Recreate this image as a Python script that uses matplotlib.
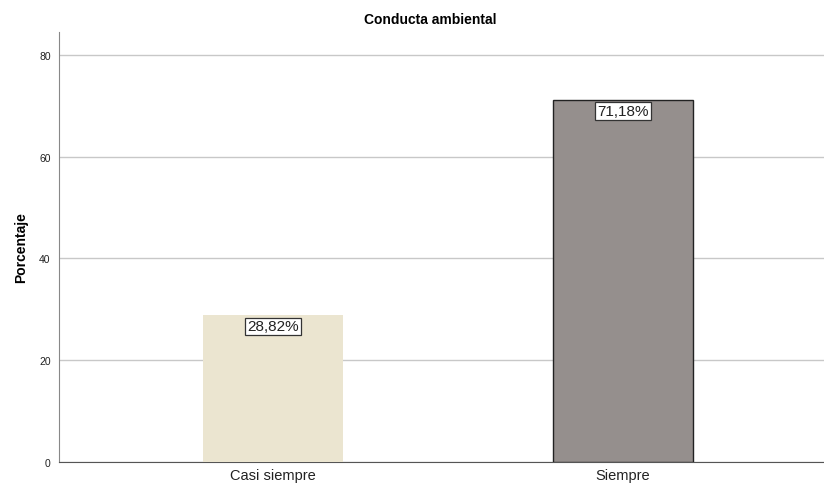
import matplotlib.pyplot as plt

categories = ["Casi siempre", "Siempre"]
percentages = [28.82, 71.18]
labels = ["28,82%", "71,18%"]
bar_colors = ["#EBE5D0", "#958F8D"]
edge_colors = ["none", "#222222"]

fig = plt.figure(figsize=(8.24, 4.89), dpi=100)
ax = fig.add_axes([0.0716, 0.0532, 0.9284, 0.8793])

x = range(len(categories))
bars = ax.bar(x, percentages, width=0.4, color=bar_colors, edgecolor=edge_colors,
              linewidth=1.0, zorder=3)

for xi, val, lab in zip(x, percentages, labels):
    ax.text(xi, val - 0.8, lab, ha="center", va="top", fontsize=11,
            family="Liberation Sans", color="#222222", zorder=4,
            bbox=dict(boxstyle="square,pad=0.12", facecolor="white",
                      edgecolor="#333333", linewidth=0.9))

ax.set_xlim(-0.611, 1.574)
ax.set_ylim(0, 84.5)
ax.set_yticks([0, 20, 40, 60, 80])
ax.set_xticks(list(x))
ax.set_xticklabels(categories, fontsize=10.5, family="Liberation Sans", color="#222222")
ax.tick_params(axis="y", labelsize=7.5, length=0, pad=6, labelcolor="#222222")
ax.tick_params(axis="x", length=0, pad=4)
for lbl in ax.get_yticklabels():
    lbl.set_family("Liberation Sans")

ax.yaxis.grid(True, color="#C8C8C8", linewidth=1.0, zorder=0)
ax.set_axisbelow(True)
for side in ["top", "right"]:
    ax.spines[side].set_visible(False)
ax.spines["left"].set_color("#888888")
ax.spines["bottom"].set_color("#555555")

ax.set_ylabel("Porcentaje", fontsize=10, fontweight="bold", family="Liberation Sans", labelpad=8)
fig.text(0.5216, 0.96, "Conducta ambiental", ha="center", va="center",
         fontsize=10, fontweight="bold", family="Liberation Sans")

fig.savefig("out.png", dpi=100)
